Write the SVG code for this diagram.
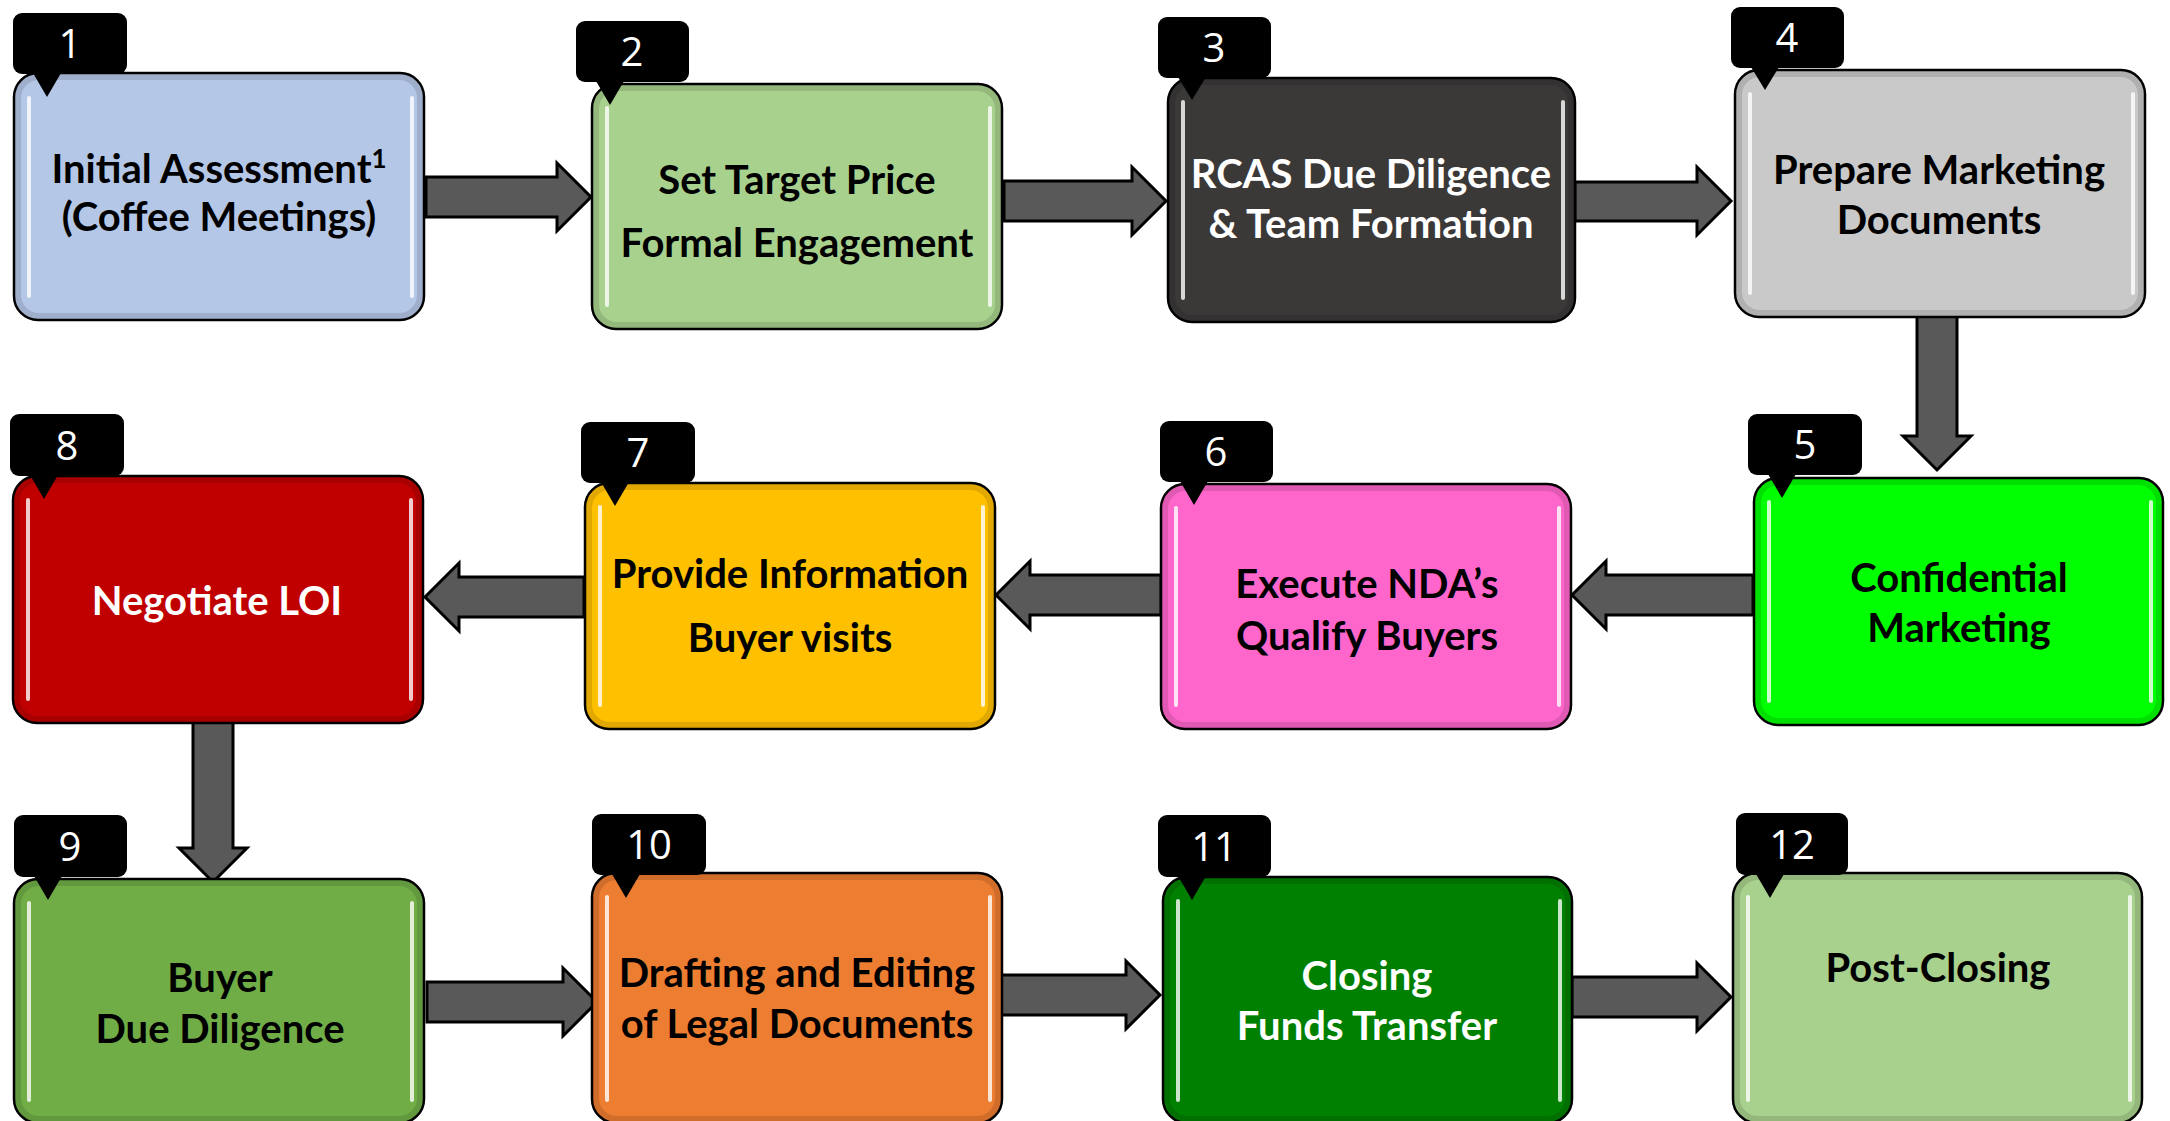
<svg xmlns="http://www.w3.org/2000/svg" width="2170" height="1121" viewBox="0 0 2170 1121">
<style>
.box{stroke:#000;stroke-width:2.5}
.inner{fill:none;stroke:#000;stroke-opacity:0.12;stroke-width:6}
.hl{stroke:#fff;stroke-width:4;stroke-linecap:round;opacity:0.8}
.lbl{font-family:Lato,"Liberation Sans",sans-serif;font-weight:bold;font-size:40px;text-anchor:middle}
.dk{fill:#000}
.wt{fill:#fff}
.badge{fill:#000}
.num{font-family:"Open Sans","Liberation Sans",sans-serif;font-size:40px;fill:#fff;text-anchor:middle}
.arr{fill:#595959;stroke:#000;stroke-width:3;stroke-linejoin:miter}
</style>
<rect width="2170" height="1121" fill="#fff"/>

<g id="connectors">
  <path class="arr" d="M426,177 H557 V163 L591,197 L557,231 V217 H426 Z"/>
  <path class="arr" d="M1004,181 H1132 V167 L1166,201 L1132,235 V221 H1004 Z"/>
  <path class="arr" d="M1575,182 H1697 V167 L1731,201 L1697,235 V221 H1575 Z"/>
  <path class="arr" d="M1917,312 V436 H1903 L1937,470 L1971,436 H1957 V312 Z"/>
  <path class="arr" d="M1753,575 H1606 V561 L1572,595 L1606,629 V615 H1753 Z"/>
  <path class="arr" d="M1161,575 H1030 V561 L996,595 L1030,629 V615 H1161 Z"/>
  <path class="arr" d="M584,577 H459 V563 L425,597 L459,631 V617 H584 Z"/>
  <path class="arr" d="M193,722 V848 H179 L213,882 L247,848 H233 V722 Z"/>
  <path class="arr" d="M427,982 H563 V968 L597,1002 L563,1036 V1022 H427 Z"/>
  <path class="arr" d="M999,975 H1126 V961 L1160,995 L1126,1029 V1015 H999 Z"/>
  <path class="arr" d="M1572,977 H1697 V963 L1731,997 L1697,1031 V1017 H1572 Z"/>
</g>

<g id="node1">
  <rect class="box" x="14" y="73" width="410" height="247" rx="24" fill="#B4C7E7"/>
  <rect class="inner" x="18" y="77" width="402" height="239" rx="21"/>
  <line class="hl" x1="29" y1="98" x2="29" y2="296"/><line class="hl" x1="412" y1="98" x2="412" y2="296"/>
  <rect class="badge" x="13" y="13" width="114" height="61" rx="9"/><polygon class="badge" points="33,73 61,73 47,97"/>
  <text class="num" x="70" y="58">1</text>
  <text class="lbl dk" x="219" y="183">Initial Assessment<tspan dy="-15" font-size="26">1</tspan></text>
  <text class="lbl dk" x="219" y="231">(Coffee Meetings)</text>
</g>

<g id="node2">
  <rect class="box" x="592" y="84" width="410" height="245" rx="24" fill="#A9D18E"/>
  <rect class="inner" x="596" y="88" width="402" height="237" rx="21"/>
  <line class="hl" x1="607" y1="108" x2="607" y2="305"/><line class="hl" x1="990" y1="108" x2="990" y2="305"/>
  <rect class="badge" x="576" y="21" width="113" height="61" rx="9"/><polygon class="badge" points="596,81 624,81 610,105"/>
  <text class="num" x="632" y="66">2</text>
  <text class="lbl dk" x="797" y="194">Set Target Price</text>
  <text class="lbl dk" x="797" y="257">Formal Engagement</text>
</g>

<g id="node3">
  <rect class="box" x="1168" y="78" width="407" height="244" rx="24" fill="#3B3838"/>
  <rect class="inner" x="1172" y="82" width="399" height="236" rx="21"/>
  <line class="hl" x1="1183" y1="102" x2="1183" y2="298" opacity="0.5"/><line class="hl" x1="1563" y1="102" x2="1563" y2="298" opacity="0.5"/>
  <rect class="badge" x="1158" y="17" width="113" height="61" rx="9"/><polygon class="badge" points="1178,77 1206,77 1192,100"/>
  <text class="num" x="1214" y="62">3</text>
  <text class="lbl wt" x="1371" y="188">RCAS Due Diligence</text>
  <text class="lbl wt" x="1371" y="238">&amp; Team Formation</text>
</g>

<g id="node4">
  <rect class="box" x="1735" y="70" width="410" height="247" rx="24" fill="#C9C9C9"/>
  <rect class="inner" x="1739" y="74" width="402" height="239" rx="21"/>
  <line class="hl" x1="1750" y1="94" x2="1750" y2="293"/><line class="hl" x1="2133" y1="94" x2="2133" y2="293"/>
  <rect class="badge" x="1731" y="7" width="113" height="61" rx="9"/><polygon class="badge" points="1751,67 1779,67 1765,90"/>
  <text class="num" x="1787" y="52">4</text>
  <text class="lbl dk" x="1939" y="184">Prepare Marketing</text>
  <text class="lbl dk" x="1939" y="234">Documents</text>
</g>

<g id="node5">
  <rect class="box" x="1754" y="478" width="409" height="247" rx="24" fill="#00FF00"/>
  <rect class="inner" x="1758" y="482" width="401" height="239" rx="21"/>
  <line class="hl" x1="1769" y1="502" x2="1769" y2="701"/><line class="hl" x1="2151" y1="502" x2="2151" y2="701"/>
  <rect class="badge" x="1748" y="414" width="114" height="61" rx="9"/><polygon class="badge" points="1768,474 1796,474 1782,498"/>
  <text class="num" x="1805" y="459">5</text>
  <text class="lbl dk" x="1959" y="592">Confidential</text>
  <text class="lbl dk" x="1959" y="642">Marketing</text>
</g>

<g id="node6">
  <rect class="box" x="1161" y="484" width="410" height="245" rx="24" fill="#FF66CC"/>
  <rect class="inner" x="1165" y="488" width="402" height="237" rx="21"/>
  <line class="hl" x1="1176" y1="508" x2="1176" y2="705"/><line class="hl" x1="1559" y1="508" x2="1559" y2="705"/>
  <rect class="badge" x="1160" y="421" width="113" height="61" rx="9"/><polygon class="badge" points="1180,481 1208,481 1194,505"/>
  <text class="num" x="1216" y="466">6</text>
  <text class="lbl dk" x="1367" y="598">Execute NDA’s</text>
  <text class="lbl dk" x="1367" y="650">Qualify Buyers</text>
</g>

<g id="node7">
  <rect class="box" x="585" y="483" width="410" height="246" rx="24" fill="#FFC000"/>
  <rect class="inner" x="589" y="487" width="402" height="238" rx="21"/>
  <line class="hl" x1="600" y1="507" x2="600" y2="705"/><line class="hl" x1="983" y1="507" x2="983" y2="705"/>
  <rect class="badge" x="581" y="422" width="114" height="61" rx="9"/><polygon class="badge" points="601,482 629,482 615,506"/>
  <text class="num" x="638" y="467">7</text>
  <text class="lbl dk" x="790" y="588">Provide Information</text>
  <text class="lbl dk" x="790" y="652">Buyer visits</text>
</g>

<g id="node8">
  <rect class="box" x="13" y="476" width="410" height="247" rx="24" fill="#C00000"/>
  <rect class="inner" x="17" y="480" width="402" height="239" rx="21"/>
  <line class="hl" x1="28" y1="500" x2="28" y2="699"/><line class="hl" x1="411" y1="500" x2="411" y2="699"/>
  <rect class="badge" x="10" y="414" width="114" height="62" rx="9"/><polygon class="badge" points="30,475 58,475 44,499"/>
  <text class="num" x="67" y="460">8</text>
  <text class="lbl wt" x="217" y="615">Negotiate LOI</text>
</g>

<g id="node9">
  <rect class="box" x="14" y="879" width="410" height="244" rx="24" fill="#70AD47"/>
  <rect class="inner" x="18" y="883" width="402" height="236" rx="21"/>
  <line class="hl" x1="29" y1="903" x2="29" y2="1100"/><line class="hl" x1="412" y1="903" x2="412" y2="1100"/>
  <rect class="badge" x="14" y="815" width="113" height="62" rx="9"/><polygon class="badge" points="34,876 62,876 48,900"/>
  <text class="num" x="70" y="861">9</text>
  <text class="lbl dk" x="220" y="992">Buyer</text>
  <text class="lbl dk" x="220" y="1043">Due Diligence</text>
</g>

<g id="node10">
  <rect class="box" x="592" y="873" width="410" height="250" rx="24" fill="#ED7D31"/>
  <rect class="inner" x="596" y="877" width="402" height="242" rx="21"/>
  <line class="hl" x1="607" y1="897" x2="607" y2="1100"/><line class="hl" x1="990" y1="897" x2="990" y2="1100"/>
  <rect class="badge" x="592" y="814" width="114" height="61" rx="9"/><polygon class="badge" points="612,874 640,874 626,898"/>
  <text class="num" x="649" y="859">10</text>
  <text class="lbl dk" x="797" y="987">Drafting and Editing</text>
  <text class="lbl dk" x="797" y="1038">of Legal Documents</text>
</g>

<g id="node11">
  <rect class="box" x="1163" y="877" width="409" height="246" rx="24" fill="#008000"/>
  <rect class="inner" x="1167" y="881" width="401" height="238" rx="21"/>
  <line class="hl" x1="1178" y1="901" x2="1178" y2="1100"/><line class="hl" x1="1560" y1="901" x2="1560" y2="1100"/>
  <rect class="badge" x="1158" y="815" width="113" height="62" rx="9"/><polygon class="badge" points="1178,876 1206,876 1192,900"/>
  <text class="num" x="1214" y="861">11</text>
  <text class="lbl wt" x="1367" y="990">Closing</text>
  <text class="lbl wt" x="1367" y="1040">Funds Transfer</text>
</g>

<g id="node12">
  <rect class="box" x="1733" y="873" width="409" height="250" rx="24" fill="#A9D18E"/>
  <rect class="inner" x="1737" y="877" width="401" height="242" rx="21"/>
  <line class="hl" x1="1748" y1="897" x2="1748" y2="1100"/><line class="hl" x1="2130" y1="897" x2="2130" y2="1100"/>
  <rect class="badge" x="1736" y="813" width="112" height="62" rx="9"/><polygon class="badge" points="1756,874 1784,874 1770,898"/>
  <text class="num" x="1792" y="859">12</text>
  <text class="lbl dk" x="1938" y="982">Post-Closing</text>
</g>
</svg>
